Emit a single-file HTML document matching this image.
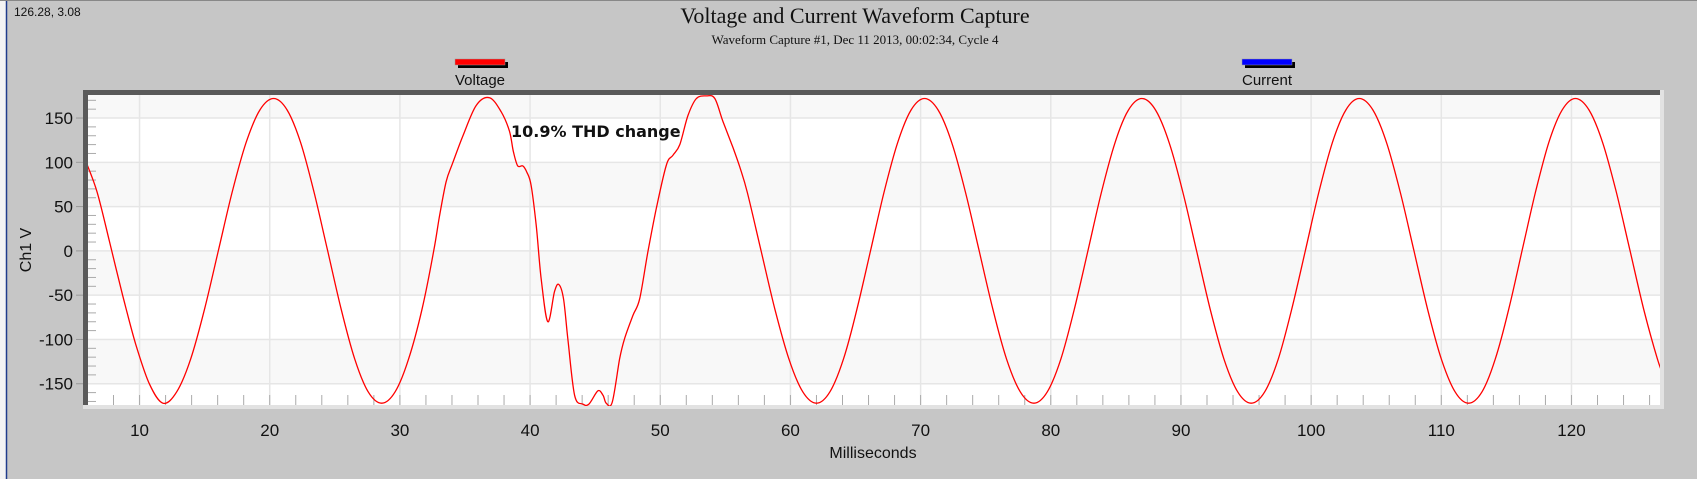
<!DOCTYPE html>
<html><head><meta charset="utf-8"><style>
html,body{margin:0;padding:0;width:1697px;height:479px;overflow:hidden;background:#c6c6c6;font-family:"Liberation Sans",Arial,sans-serif}
</style></head><body>
<svg id="chart" width="1697" height="479" xmlns="http://www.w3.org/2000/svg">
<defs><clipPath id="pc"><rect x="88" y="94" width="1572" height="312"/></clipPath></defs>
<rect x="0" y="0" width="1697" height="479" fill="#c6c6c6"/>
<rect x="0" y="0" width="6" height="479" fill="#f4f4f4"/>
<line x1="6.5" y1="0" x2="6.5" y2="479" stroke="#203c8c" stroke-width="1.5"/>
<line x1="0" y1="0.5" x2="1697" y2="0.5" stroke="#888"/>
<text x="14" y="16" font-size="12" fill="#111">126.28, 3.08</text>
<text x="855" y="23" font-size="22" text-anchor="middle" font-family="Liberation Serif,serif" fill="#111">Voltage and Current Waveform Capture</text>
<text x="855" y="44" font-size="13" text-anchor="middle" font-family="Liberation Serif,serif" fill="#111">Waveform Capture #1, Dec 11 2013, 00:02:34,  Cycle 4</text>
<g>
<rect x="458" y="62" width="50" height="6" fill="#000"/>
<rect x="455" y="59" width="50" height="6" fill="#f00" stroke="#999" stroke-width="0.5"/>
<text x="480" y="85" font-size="15" text-anchor="middle" fill="#111">Voltage</text>
</g>
<g>
<rect x="1245" y="62" width="50" height="6" fill="#000"/>
<rect x="1242" y="59" width="50" height="6" fill="#00f" stroke="#999" stroke-width="0.5"/>
<text x="1267" y="85" font-size="15" text-anchor="middle" fill="#111">Current</text>
</g>
<g id="plot"></g>
<text x="31" y="250" font-size="16" text-anchor="middle" transform="rotate(-90 31 250)" fill="#111">Ch1 V</text>
<text x="873" y="458" font-size="16" text-anchor="middle" fill="#111">Milliseconds</text>
<text x="511" y="137" font-size="16" font-weight="bold" font-family="DejaVu Sans,sans-serif" fill="#111">10.9% THD change</text>
</svg>
<script>
const times=[5.9,6.75,7.7,8.7,9.7,10.75,11.8,12.86,13.93,14.99,16.05,17.11,18.18,19.24,20.3,21.34,22.38,23.41,24.45,25.49,26.53,27.56,28.6,29.64,30.67,31.7,32.6,33.03,33.55,34.05,34.82,35.85,36.88,37.78,38.42,38.72,39.05,39.44,39.75,40.08,40.47,40.85,41.36,41.88,42.21,42.57,42.9,43.42,44.05,44.52,45.21,45.6,45.85,46.31,46.88,47.26,47.9,48.42,49.05,49.7,50.47,50.98,51.5,52.13,52.78,53.55,54.19,54.82,55.6,56.1,56.69,57.75,58.81,59.88,60.94,62.0,63.04,64.08,65.11,66.15,67.19,68.23,69.26,70.3,71.35,72.4,73.45,74.5,75.55,76.6,77.65,78.7,79.74,80.78,81.81,82.85,83.89,84.93,85.96,87.0,88.05,89.1,90.15,91.2,92.25,93.3,94.35,95.4,96.44,97.48,98.51,99.55,100.59,101.63,102.66,103.7,104.75,105.8,106.85,107.9,108.95,110.0,111.05,112.1,113.13,114.15,115.18,116.2,117.23,118.25,119.28,120.3,121.35,122.4,123.45,124.5,125.55,126.6,127.1];
const volts=[100,66,10,-50,-105,-150,-172,-159,-122,-66,0,66,122,159,172,159,122,66,0,-66,-122,-159,-172,-159,-122,-66,0,38,78,99,129,164,173,157,135,112,96,96,89,74,29,-31,-80,-46,-38,-54,-99,-163,-173,-173,-158,-163,-172,-171,-122,-99,-73,-54,-1,48,97,108,120,153,172,175,172,146,116,95,66,0,-66,-122,-159,-172,-159,-122,-66,0,66,122,159,172,159,122,66,0,-66,-122,-159,-172,-159,-122,-66,0,66,122,159,172,159,122,66,0,-66,-122,-159,-172,-159,-122,-66,0,66,122,159,172,159,122,66,0,-66,-122,-159,-172,-159,-122,-66,0,66,122,159,172,159,122,66,0,-66,-122,-142];
const yTicks=[150,100,50,0,-50,-100,-150];
const xTicks=[10,20,30,40,50,60,70,80,90,100,110,120];
const xMin=6.04,xMax=126.8,yMin=-174,yMax=176;
const L=88,R=1660,T=95,B=405;
const X=t=>L+(t-xMin)/(xMax-xMin)*(R-L);
const Y=v=>T+(yMax-v)/(yMax-yMin)*(B-T);
const NS='http://www.w3.org/2000/svg';
const g=document.getElementById('plot');
function mk(tag,attrs){const e=document.createElementNS(NS,tag);for(const k in attrs)e.setAttribute(k,attrs[k]);g.appendChild(e);return e;}
let e=mk('rect',{x:83,y:90,width:R-83+4,height:B-90+4,fill:'#e2e2e2'});


e=mk('rect',{x:83,y:90,width:R-83,height:B-90,fill:'#5a5a5a'});


e=mk('rect',{x:L,y:T,width:R-L,height:B-T,fill:'#ffffff'});


const bandEdges=[yMax,150,100,50,0,-50,-100,-150,yMin];
for(let i=0;i<bandEdges.length-1;i++){
  if(i%2===0){
    e=mk('rect',{x:L,y:Y(bandEdges[i]),width:R-L,height:Y(bandEdges[i+1])-Y(bandEdges[i]),fill:'#f8f8f8'});
    
    
  }
}
yTicks.forEach(v=>{
  e=mk('line',{x1:L,x2:R,y1:Y(v),y2:Y(v),stroke:'#e6e6e6','stroke-width':1.5});
  
  
  e=mk('line',{x1:76,x2:83,y1:Y(v),y2:Y(v),stroke:'#999','stroke-width':1});
  
  
  e=mk('text',{x:73,y:Y(v)+6,'font-size':17,'text-anchor':'end',fill:'#111'});
  e.textContent=String(v);
  
  
});
for(let v=-170;v<=170;v+=10){
  if(v%50===0)continue;
  e=mk('line',{x1:L,x2:L+8,y1:Y(v),y2:Y(v),stroke:'#aaa','stroke-width':1});
  
  
}
xTicks.forEach(t=>{
  e=mk('line',{x1:X(t),x2:X(t),y1:T,y2:B,stroke:'#e6e6e6','stroke-width':1.5});
  
  
  e=mk('text',{x:X(t),y:436,'font-size':17,'text-anchor':'middle',fill:'#111'});
  e.textContent=String(t);
  
  
});
for(let t=8;t<=126;t+=2){
  e=mk('line',{x1:X(t),x2:X(t),y1:B-10,y2:B,stroke:'#aaa','stroke-width':1});
  
  
}
const pts=times.map((t,i)=>[X(t),Y(volts[i])]);
let d='M'+pts[0][0].toFixed(1)+','+pts[0][1].toFixed(1);
for(let i=0;i<pts.length-1;i++){
  const p0=pts[Math.max(0,i-1)],p1=pts[i],p2=pts[i+1],p3=pts[Math.min(pts.length-1,i+2)];
  const c1=[p1[0]+(p2[0]-p0[0])/6,p1[1]+(p2[1]-p0[1])/6];
  const c2=[p2[0]-(p3[0]-p1[0])/6,p2[1]-(p3[1]-p1[1])/6];
  d+=' C'+c1[0].toFixed(1)+','+c1[1].toFixed(1)+' '+c2[0].toFixed(1)+','+c2[1].toFixed(1)+' '+p2[0].toFixed(1)+','+p2[1].toFixed(1);
}
e=mk('path',{d:d,fill:'none',stroke:'#ff0000','stroke-width':1.3,'clip-path':'url(#pc)'});


</script>
</body></html>
